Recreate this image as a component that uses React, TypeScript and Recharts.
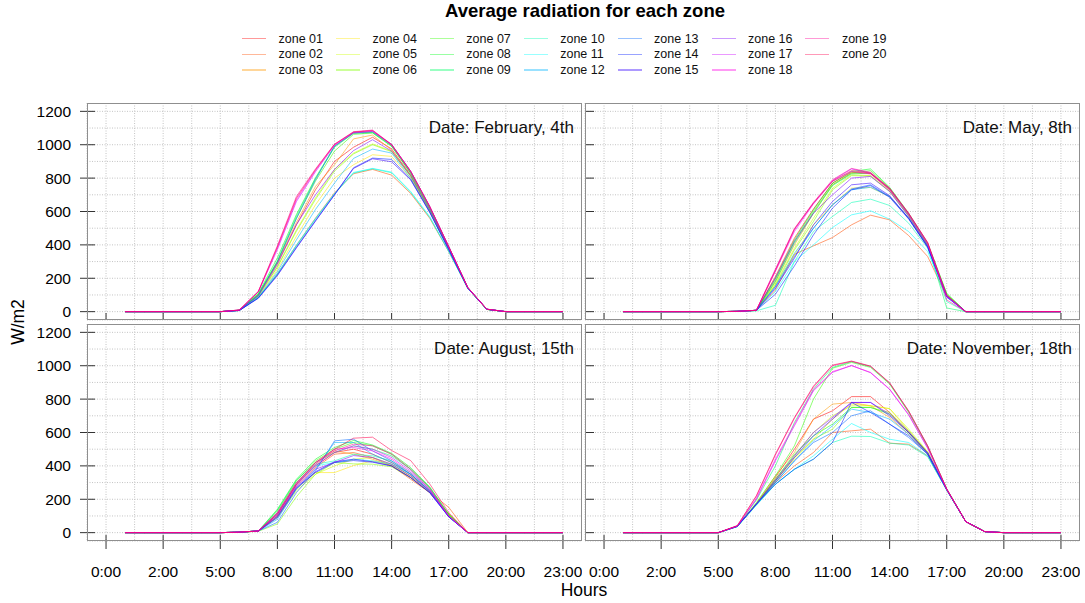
import React from 'react';
import { LineChart, Line, XAxis, YAxis, CartesianGrid } from 'recharts';

const hours = [1, 2, 3, 4, 5, 6, 7, 8, 9, 10, 11, 12, 13, 14, 15, 16, 17, 18, 19, 20, 21, 22, 23, 24];
const zoneNames = ['zone 01', 'zone 02', 'zone 03', 'zone 04', 'zone 05', 'zone 06', 'zone 07', 'zone 08', 'zone 09', 'zone 10',
  'zone 11', 'zone 12', 'zone 13', 'zone 14', 'zone 15', 'zone 16', 'zone 17', 'zone 18', 'zone 19', 'zone 20'];
const zoneColors = ['#FF0000', '#FF4D00', '#FF9900', '#FFE500', '#CCFF00', '#80FF00', '#33FF00', '#00FF19', '#00FF66', '#00FFB3',
  '#00FFFF', '#00B3FF', '#0066FF', '#001AFF', '#3300FF', '#8000FF', '#CC00FF', '#FF00E6', '#FF0099', '#FF004D'];
const xTickValues = [0, 3, 6, 9, 12, 15, 18, 21, 24];
const xTickLabels = ['0:00', '2:00', '5:00', '8:00', '11:00', '14:00', '17:00', '20:00', '23:00'];
const xGridValues = [0, 1.5, 3, 4.5, 6, 7.5, 9, 10.5, 12, 13.5, 15, 16.5, 18, 19.5, 21, 22.5, 24];
const yTickValues = [0, 200, 400, 600, 800, 1000, 1200];
const yGridValues = [0, 100, 200, 300, 400, 500, 600, 700, 800, 900, 1000, 1100, 1200];
const panelLabels = ['Date: February, 4th', 'Date: May, 8th', 'Date: August, 15th', 'Date: November, 18th'];

const febValues = [
  [0, 0, 0, 0, 0, 0, 8, 100, 290, 520, 730, 900, 985, 1045, 975, 820, 610, 380, 142, 14, 0, 0, 0, 0],
  [0, 0, 0, 0, 0, 0, 7, 85, 228, 398, 560, 712, 826, 852, 818, 708, 560, 360, 140, 13, 0, 0, 0, 0],
  [0, 0, 0, 0, 0, 0, 8, 102, 295, 535, 750, 880, 1035, 1058, 968, 815, 610, 380, 142, 14, 0, 0, 0, 0],
  [0, 0, 0, 0, 0, 0, 7, 90, 252, 452, 640, 800, 880, 940, 930, 800, 600, 375, 141, 14, 0, 0, 0, 0],
  [0, 0, 0, 0, 0, 0, 8, 95, 270, 490, 682, 852, 950, 1005, 962, 810, 605, 378, 141, 14, 0, 0, 0, 0],
  [0, 0, 0, 0, 0, 0, 8, 94, 266, 482, 672, 842, 945, 1000, 958, 812, 605, 378, 141, 14, 0, 0, 0, 0],
  [0, 0, 0, 0, 0, 0, 8, 106, 300, 560, 782, 962, 1062, 1070, 990, 830, 620, 385, 143, 14, 0, 0, 0, 0],
  [0, 0, 0, 0, 0, 0, 9, 110, 322, 582, 802, 990, 1070, 1075, 995, 832, 622, 386, 143, 14, 0, 0, 0, 0],
  [0, 0, 0, 0, 0, 0, 9, 104, 305, 572, 796, 985, 1068, 1072, 992, 830, 620, 386, 143, 14, 0, 0, 0, 0],
  [0, 0, 0, 0, 0, 0, 7, 84, 224, 394, 554, 705, 830, 856, 832, 715, 565, 360, 140, 14, 0, 0, 0, 0],
  [0, 0, 0, 0, 0, 0, 7, 85, 228, 398, 558, 708, 834, 858, 836, 720, 570, 362, 140, 14, 0, 0, 0, 0],
  [0, 0, 0, 0, 0, 0, 7, 88, 240, 430, 612, 770, 918, 974, 950, 800, 600, 375, 141, 14, 0, 0, 0, 0],
  [0, 0, 0, 0, 0, 0, 8, 98, 298, 558, 790, 992, 1072, 1078, 1002, 842, 630, 390, 145, 15, 0, 0, 0, 0],
  [0, 0, 0, 0, 0, 0, 7, 82, 220, 385, 545, 700, 862, 920, 912, 792, 596, 372, 141, 14, 0, 0, 0, 0],
  [0, 0, 0, 0, 0, 0, 7, 80, 216, 382, 542, 700, 858, 916, 898, 790, 595, 372, 141, 14, 0, 0, 0, 0],
  [0, 0, 0, 0, 0, 0, 8, 96, 282, 522, 700, 852, 965, 1030, 962, 815, 610, 380, 142, 14, 0, 0, 0, 0],
  [0, 0, 0, 0, 0, 0, 9, 118, 372, 660, 838, 996, 1070, 1080, 998, 838, 628, 388, 144, 15, 0, 0, 0, 0],
  [0, 0, 0, 0, 0, 0, 10, 120, 382, 670, 845, 1000, 1075, 1084, 1000, 840, 630, 390, 145, 15, 0, 0, 0, 0],
  [0, 0, 0, 0, 0, 0, 10, 122, 395, 690, 855, 1004, 1078, 1088, 1002, 842, 632, 390, 145, 15, 0, 0, 0, 0],
  [0, 0, 0, 0, 0, 0, 10, 120, 388, 680, 850, 1002, 1076, 1085, 1000, 840, 630, 390, 145, 15, 0, 0, 0, 0],
];

const mayValues = [
  [0, 0, 0, 0, 0, 0, 2, 8, 210, 440, 615, 770, 835, 828, 732, 585, 405, 95, 0, 0, 0, 0, 0, 0],
  [0, 0, 0, 0, 0, 0, 2, 8, 130, 344, 394, 444, 520, 578, 550, 456, 330, 90, 0, 0, 0, 0, 0, 0],
  [0, 0, 0, 0, 0, 0, 2, 8, 180, 400, 590, 760, 830, 826, 730, 580, 400, 92, 0, 0, 0, 0, 0, 0],
  [0, 0, 0, 0, 0, 0, 2, 8, 160, 340, 520, 640, 740, 744, 690, 560, 390, 95, 0, 0, 0, 0, 0, 0],
  [0, 0, 0, 0, 0, 0, 2, 8, 170, 380, 560, 740, 820, 815, 725, 575, 398, 100, 0, 0, 0, 0, 0, 0],
  [0, 0, 0, 0, 0, 0, 2, 8, 160, 370, 540, 730, 815, 812, 720, 572, 395, 100, 0, 0, 0, 0, 0, 0],
  [0, 0, 0, 0, 0, 0, 2, 8, 190, 420, 600, 760, 830, 845, 740, 585, 405, 105, 0, 0, 0, 0, 0, 0],
  [0, 0, 0, 0, 0, 0, 2, 8, 200, 430, 610, 770, 840, 855, 745, 590, 410, 110, 0, 0, 0, 0, 0, 0],
  [0, 0, 0, 0, 0, 0, 2, 6, 180, 410, 590, 755, 825, 830, 735, 580, 400, 22, 0, 0, 0, 0, 0, 0],
  [0, 0, 0, 0, 0, 0, 2, 5, 38, 300, 480, 570, 654, 674, 636, 530, 380, 60, 0, 0, 0, 0, 0, 0],
  [0, 0, 0, 0, 0, 0, 2, 8, 120, 300, 400, 504, 580, 604, 554, 480, 360, 85, 0, 0, 0, 0, 0, 0],
  [0, 0, 0, 0, 0, 0, 2, 8, 150, 350, 500, 640, 730, 745, 690, 560, 390, 95, 0, 0, 0, 0, 0, 0],
  [0, 0, 0, 0, 0, 0, 2, 8, 150, 330, 500, 640, 735, 760, 690, 560, 390, 95, 0, 0, 0, 0, 0, 0],
  [0, 0, 0, 0, 0, 0, 2, 8, 104, 274, 460, 620, 730, 755, 685, 555, 385, 90, 0, 0, 0, 0, 0, 0],
  [0, 0, 0, 0, 0, 0, 2, 8, 140, 320, 520, 660, 760, 770, 695, 560, 388, 92, 0, 0, 0, 0, 0, 0],
  [0, 0, 0, 0, 0, 0, 2, 8, 200, 420, 590, 700, 800, 810, 720, 570, 395, 88, 0, 0, 0, 0, 0, 0],
  [0, 0, 0, 0, 0, 0, 2, 8, 250, 490, 650, 785, 855, 830, 735, 585, 410, 90, 0, 0, 0, 0, 0, 0],
  [0, 0, 0, 0, 0, 0, 2, 8, 240, 480, 645, 780, 840, 825, 730, 580, 405, 95, 0, 0, 0, 0, 0, 0],
  [0, 0, 0, 0, 0, 0, 2, 8, 255, 498, 655, 790, 858, 835, 738, 588, 412, 70, 0, 0, 0, 0, 0, 0],
  [0, 0, 0, 0, 0, 0, 2, 8, 245, 495, 650, 782, 845, 830, 740, 590, 415, 100, 0, 0, 0, 0, 0, 0],
];

const augValues = [
  [0, 0, 0, 0, 0, 0, 3, 10, 110, 290, 400, 480, 500, 470, 420, 350, 250, 110, 0, 0, 0, 0, 0, 0],
  [0, 0, 0, 0, 0, 0, 3, 10, 100, 280, 390, 470, 480, 450, 400, 320, 240, 152, 0, 0, 0, 0, 0, 0],
  [0, 0, 0, 0, 0, 0, 3, 10, 120, 300, 410, 490, 470, 440, 400, 330, 240, 110, 0, 0, 0, 0, 0, 0],
  [0, 0, 0, 0, 0, 0, 3, 10, 100, 260, 360, 360, 402, 430, 405, 340, 250, 110, 0, 0, 0, 0, 0, 0],
  [0, 0, 0, 0, 0, 0, 3, 10, 90, 250, 350, 400, 440, 450, 410, 340, 250, 110, 0, 0, 0, 0, 0, 0],
  [0, 0, 0, 0, 0, 0, 3, 8, 52, 215, 350, 420, 412, 410, 395, 330, 240, 105, 0, 0, 0, 0, 0, 0],
  [0, 0, 0, 0, 0, 0, 3, 10, 130, 310, 430, 500, 540, 520, 470, 380, 270, 110, 0, 0, 0, 0, 0, 0],
  [0, 0, 0, 0, 0, 0, 3, 10, 140, 320, 440, 510, 552, 525, 475, 390, 275, 110, 0, 0, 0, 0, 0, 0],
  [0, 0, 0, 0, 0, 0, 3, 10, 135, 315, 420, 480, 520, 500, 460, 380, 270, 105, 0, 0, 0, 0, 0, 0],
  [0, 0, 0, 0, 0, 0, 3, 10, 120, 300, 410, 430, 470, 460, 430, 360, 260, 100, 0, 0, 0, 0, 0, 0],
  [0, 0, 0, 0, 0, 0, 3, 10, 110, 290, 400, 420, 440, 430, 410, 350, 250, 100, 0, 0, 0, 0, 0, 0],
  [0, 0, 0, 0, 0, 0, 3, 10, 80, 260, 380, 540, 540, 470, 420, 350, 250, 95, 0, 0, 0, 0, 0, 0],
  [0, 0, 0, 0, 0, 0, 3, 10, 62, 240, 370, 550, 560, 490, 430, 350, 250, 95, 0, 0, 0, 0, 0, 0],
  [0, 0, 0, 0, 0, 0, 3, 10, 90, 265, 360, 420, 432, 422, 400, 330, 240, 95, 0, 0, 0, 0, 0, 0],
  [0, 0, 0, 0, 0, 0, 3, 10, 95, 270, 365, 425, 440, 425, 400, 330, 240, 95, 0, 0, 0, 0, 0, 0],
  [0, 0, 0, 0, 0, 0, 3, 10, 100, 275, 380, 420, 462, 450, 410, 340, 245, 98, 0, 0, 0, 0, 0, 0],
  [0, 0, 0, 0, 0, 0, 3, 10, 110, 285, 400, 480, 520, 500, 450, 370, 260, 100, 0, 0, 0, 0, 0, 0],
  [0, 0, 0, 0, 0, 0, 3, 10, 115, 290, 410, 500, 510, 490, 440, 360, 255, 100, 0, 0, 0, 0, 0, 0],
  [0, 0, 0, 0, 0, 0, 3, 10, 120, 300, 420, 490, 530, 520, 470, 380, 265, 100, 0, 0, 0, 0, 0, 0],
  [0, 0, 0, 0, 0, 0, 3, 10, 110, 290, 420, 500, 566, 572, 492, 432, 292, 120, 0, 0, 0, 0, 0, 0],
];

const novValues = [
  [0, 0, 0, 0, 0, 0, 38, 170, 330, 500, 680, 730, 815, 815, 720, 600, 480, 258, 66, 6, 0, 0, 0, 0],
  [0, 0, 0, 0, 0, 0, 38, 170, 300, 400, 480, 600, 610, 620, 536, 530, 460, 255, 66, 6, 0, 0, 0, 0],
  [0, 0, 0, 0, 0, 0, 38, 175, 340, 480, 680, 770, 780, 760, 690, 590, 470, 258, 66, 6, 0, 0, 0, 0],
  [0, 0, 0, 0, 0, 0, 38, 170, 310, 440, 560, 680, 770, 760, 743, 610, 480, 258, 66, 6, 0, 0, 0, 0],
  [0, 0, 0, 0, 0, 0, 38, 170, 320, 460, 600, 700, 760, 760, 743, 620, 485, 258, 66, 6, 0, 0, 0, 0],
  [0, 0, 0, 0, 0, 0, 38, 170, 310, 450, 560, 620, 750, 750, 720, 610, 480, 258, 66, 6, 0, 0, 0, 0],
  [0, 0, 0, 0, 0, 0, 38, 180, 340, 520, 800, 985, 1020, 990, 890, 720, 515, 262, 66, 6, 0, 0, 0, 0],
  [0, 0, 0, 0, 0, 0, 38, 172, 320, 470, 580, 650, 750, 750, 710, 600, 478, 258, 66, 6, 0, 0, 0, 0],
  [0, 0, 0, 0, 0, 0, 40, 195, 400, 660, 860, 990, 1025, 995, 895, 725, 518, 262, 66, 6, 0, 0, 0, 0],
  [0, 0, 0, 0, 0, 0, 36, 165, 290, 380, 440, 540, 578, 576, 536, 525, 455, 255, 66, 6, 0, 0, 0, 0],
  [0, 0, 0, 0, 0, 0, 36, 165, 290, 380, 460, 560, 654, 600, 560, 540, 460, 255, 66, 6, 0, 0, 0, 0],
  [0, 0, 0, 0, 0, 0, 38, 170, 300, 430, 550, 640, 740, 720, 680, 590, 475, 258, 66, 6, 0, 0, 0, 0],
  [0, 0, 0, 0, 0, 0, 38, 170, 300, 430, 540, 600, 700, 730, 650, 570, 470, 258, 66, 6, 0, 0, 0, 0],
  [0, 0, 0, 0, 0, 0, 38, 170, 290, 380, 440, 540, 780, 720, 650, 580, 470, 258, 66, 6, 0, 0, 0, 0],
  [0, 0, 0, 0, 0, 0, 38, 172, 310, 450, 580, 680, 780, 780, 700, 600, 475, 258, 66, 6, 0, 0, 0, 0],
  [0, 0, 0, 0, 0, 0, 38, 172, 315, 460, 600, 690, 780, 780, 710, 605, 478, 258, 66, 6, 0, 0, 0, 0],
  [0, 0, 0, 0, 0, 0, 40, 200, 430, 640, 850, 960, 1002, 958, 858, 705, 505, 260, 66, 6, 0, 0, 0, 0],
  [0, 0, 0, 0, 0, 0, 40, 205, 440, 650, 855, 965, 1000, 960, 860, 708, 508, 260, 66, 6, 0, 0, 0, 0],
  [0, 0, 0, 0, 0, 0, 42, 218, 465, 685, 872, 1000, 1026, 996, 896, 728, 520, 262, 66, 6, 0, 0, 0, 0],
  [0, 0, 0, 0, 0, 0, 42, 221, 470, 690, 878, 1004, 1028, 998, 898, 729, 520, 262, 66, 6, 0, 0, 0, 0],
];

const zoneKeys = zoneNames.map((_, i) => 'z' + (i + 1));
const buildRows = (values: number[][]) =>
  hours.map((h, i) => {
    const row: Record<string, number> = { hour: h };
    zoneKeys.forEach((k, z) => { row[k] = values[z][i]; });
    return row;
  });

const FONT = '"Liberation Sans", Arial, Helvetica, sans-serif';
const AXW = 60;
const AXH = 40;
const PW = 495;
const PH = 217;

type PanelProps = {
  values: number[][];
  label: string;
  left: number;
  top: number;
  bottomRow: boolean;
  leftCol: boolean;
};

const Panel = ({ values, label, left, top, bottomRow, leftCol }: PanelProps) => {
  const rows = buildRows(values);
  const XTick = (props: any) => {
    const { x, payload } = props;
    const idx = xTickValues.indexOf(payload.value);
    if (idx < 0) return <g />;
    return (
      <g>
        {bottomRow ? (
          <line x1={x} x2={x} y1={PH - 6} y2={PH + 8} stroke="#333" strokeWidth={1} />
        ) : (
          <line x1={x} x2={x} y1={PH - 7} y2={PH} stroke="#333" strokeWidth={1} />
        )}
        {bottomRow && (
          <text x={x} y={PH + 30} textAnchor="middle" dominantBaseline="central" fontSize={15.5} fill="#000" fontFamily={FONT}>
            {xTickLabels[idx]}
          </text>
        )}
      </g>
    );
  };
  const YTick = (props: any) => {
    const { y, payload } = props;
    if (yTickValues.indexOf(payload.value) < 0) return <g />;
    return (
      <g>
        {leftCol ? (
          <line x1={AXW - 7} x2={AXW + 8} y1={y} y2={y} stroke="#333" strokeWidth={1} />
        ) : (
          <line x1={AXW + 1} x2={AXW + 9} y1={y} y2={y} stroke="#333" strokeWidth={1} />
        )}
        {leftCol && (
          <text x={AXW - 16} y={y} textAnchor="end" dominantBaseline="central" fontSize={15.5} fill="#000" fontFamily={FONT}>
            {payload.value}
          </text>
        )}
      </g>
    );
  };
  return (
    <>
      <div style={{ position: 'absolute', left: left - AXW, top, width: PW + AXW, height: PH + AXH }}>
        <LineChart width={PW + AXW} height={PH + AXH} data={rows} margin={{ top: 0, right: 0, bottom: 0, left: 0 }}>
          <CartesianGrid stroke="#c4c4c4" strokeDasharray="1 1.5" />
          <XAxis
            type="number"
            dataKey="hour"
            domain={[-1, 25]}
            ticks={xGridValues}
            interval={0}
            height={AXH}
            axisLine={false}
            tickLine={false}
            tick={XTick}
            allowDataOverflow
          />
          <YAxis
            type="number"
            domain={[-50, 1250]}
            ticks={yGridValues}
            interval={0}
            width={AXW}
            axisLine={false}
            tickLine={false}
            tick={YTick}
            allowDataOverflow
          />
          {zoneKeys.map((k, i) => (
            <Line
              key={k}
              type="linear"
              dataKey={k}
              stroke={zoneColors[i]}
              strokeOpacity={0.55}
              strokeWidth={1}
              dot={false}
              activeDot={false}
              isAnimationActive={false}
            />
          ))}
        </LineChart>
      </div>
      <div
        style={{
          position: 'absolute', left, top, width: PW, height: PH,
          border: '1px solid #8f8f8f', boxSizing: 'border-box', pointerEvents: 'none',
        }}
      />
      <div
        style={{
          position: 'absolute', left, top: top + 14, width: PW - 8, textAlign: 'right',
          fontSize: 17, lineHeight: '22px', color: '#111', fontFamily: FONT,
        }}
      >
        {label}
      </div>
    </>
  );
};

const Legend = () => (
  <>
    {zoneNames.map((name, i) => {
      const col = Math.floor(i / 3);
      const row = i % 3;
      const x = 242 + col * 93.9;
      const y = 38.7 + row * 15.6;
      return (
        <React.Fragment key={name}>
          <div
            style={{
              position: 'absolute', left: x, top: y - 0.75, width: 24, height: 1.5,
              background: zoneColors[i], opacity: 0.4,
            }}
          />
          <div
            style={{
              position: 'absolute', left: x + 36.5, top: y - 8, height: 16, lineHeight: '16px',
              fontSize: 12.5, color: '#111', fontFamily: FONT, whiteSpace: 'nowrap',
            }}
          >
            {name}
          </div>
        </React.Fragment>
      );
    })}
  </>
);

export default function App() {
  return (
    <div
      style={{
        position: 'absolute', left: 0, top: 0, width: 1085, height: 603,
        background: '#fff', fontFamily: FONT, overflow: 'hidden',
      }}
    >
      <div
        style={{
          position: 'absolute', left: 0, top: 0, width: 1170, textAlign: 'center',
          fontSize: 18.5, fontWeight: 'bold', lineHeight: '22px', color: '#000',
        }}
      >
        Average radiation for each zone
      </div>
      <Legend />
      <Panel values={febValues} label={panelLabels[0]} left={87} top={103} bottomRow={false} leftCol={true} />
      <Panel values={mayValues} label={panelLabels[1]} left={585} top={103} bottomRow={false} leftCol={false} />
      <Panel values={augValues} label={panelLabels[2]} left={87} top={324} bottomRow={true} leftCol={true} />
      <Panel values={novValues} label={panelLabels[3]} left={585} top={324} bottomRow={true} leftCol={false} />
      <div
        style={{
          position: 'absolute', left: 484, top: 579, width: 200, textAlign: 'center',
          fontSize: 17.5, lineHeight: '22px', color: '#000',
        }}
      >
        Hours
      </div>
      <div style={{ position: 'absolute', left: 18, top: 322, width: 0, height: 0 }}>
        <div
          style={{
            position: 'absolute', left: -60, top: -11, width: 120, textAlign: 'center',
            fontSize: 17.5, lineHeight: '22px', color: '#000', transform: 'rotate(-90deg)',
          }}
        >
          W/m2
        </div>
      </div>
    </div>
  );
}
